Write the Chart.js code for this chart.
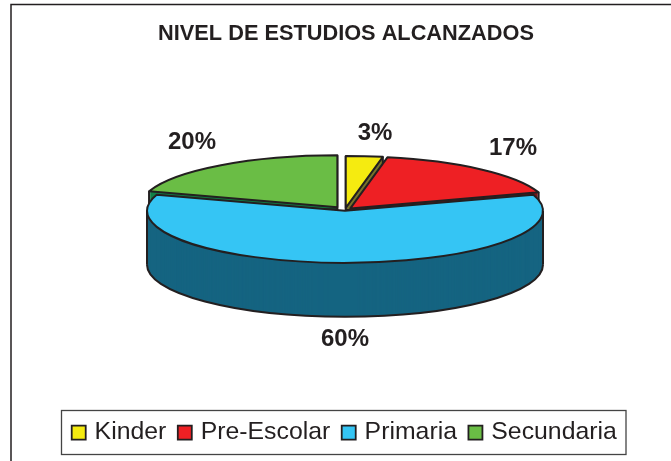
<!DOCTYPE html>
<html><head><meta charset="utf-8">
<style>html,body{margin:0;padding:0;background:#fff}canvas{display:block}</style>
<script src="https://cdn.jsdelivr.net/npm/chart.js@4"></script>
</head><body><canvas id="c" width="671" height="461"></canvas>
<script>
const categories = ['Kinder','Pre-Escolar','Primaria','Secundaria'];
const values = [3,17,60,20];
const topColors = ['#F5EB10','#EE2024','#35C5F4','#6ABD45'];
const wallColors = ['#77752A','#7E1416','#156481','#118047'];
const titleText = 'NIVEL DE ESTUDIOS ALCANZADOS';

const ink = '#231F20';
const pieCenter = {x:345, y:210};
const rx = 198, ry = 52, depth = 54;
const explode = [8,8,3,13];
const drawOrder = [3,0,1,2];
const valueLabelPos = [[375,133],[513,148],[345,339],[192,142]];

const pie3d = {
  id:'pie3d',
  beforeDraw(chart){
    const ctx = chart.ctx;
    ctx.save();
    ctx.fillStyle='#fff'; ctx.fillRect(0,0,chart.width,chart.height);
    ctx.strokeStyle=ink; ctx.lineWidth=1.5;
    ctx.strokeRect(11,4.5,chart.width+20,chart.height+20);
    ctx.restore();
  },
  beforeDatasetsDraw(chart){
    const ctx = chart.ctx, arcs = chart.getDatasetMeta(0).data;
    drawOrder.forEach(i=>{
      const a = arcs[i];
      const sx = rx/a.outerRadius, sy = ry/a.outerRadius;
      const mid = (a.startAngle+a.endAngle)/2;
      const ox = Math.cos(mid)*explode[i], oy = Math.sin(mid)*explode[i]*ry/rx;
      const place = (dy)=>{
        ctx.translate(pieCenter.x+ox, pieCenter.y+oy+dy);
        ctx.scale(sx,sy);
        ctx.translate(-a.x,-a.y);
      };
      const sector = ()=>{
        ctx.beginPath();
        ctx.moveTo(a.x,a.y);
        ctx.arc(a.x,a.y,a.outerRadius,a.startAngle,a.endAngle);
        ctx.closePath();
      };
      const rim = (ang,dy)=>[pieCenter.x+ox+Math.cos(ang)*rx, pieCenter.y+oy+dy+Math.sin(ang)*ry];
      // side wall
      ctx.save();
      ctx.fillStyle = wallColors[i];
      for(let d=depth;d>=1;d--){
        ctx.save(); place(d); sector(); ctx.fill(); ctx.restore();
      }
      ctx.restore();
      // wall outline
      ctx.save();
      ctx.strokeStyle=ink; ctx.lineWidth=2; ctx.lineJoin='round';
      const s0 = Math.max(a.startAngle,0), e0 = Math.min(a.endAngle,Math.PI);
      if(e0>s0){
        ctx.save(); place(depth);
        ctx.beginPath(); ctx.arc(a.x,a.y,a.outerRadius,s0,e0); ctx.restore(); ctx.stroke();
        [s0,e0].forEach(g=>{
          const p=rim(g,0), q=rim(g,depth);
          ctx.beginPath(); ctx.moveTo(p[0],p[1]); ctx.lineTo(q[0],q[1]); ctx.stroke();
        });
      } else {
        ctx.save(); place(depth); sector(); ctx.restore(); ctx.stroke();
        [a.startAngle,a.endAngle].forEach(g=>{
          const p=rim(g,0), q=rim(g,depth);
          ctx.beginPath(); ctx.moveTo(p[0],p[1]); ctx.lineTo(q[0],q[1]); ctx.stroke();
        });
      }
      ctx.restore();
      // top face through the library's arc element
      ctx.save(); place(0); a.draw(ctx); ctx.restore();
      // outline in screen space so its width is even
      ctx.save();
      ctx.save(); place(0); sector(); ctx.restore();
      ctx.strokeStyle=ink; ctx.lineWidth=2; ctx.lineJoin='round'; ctx.stroke();
      ctx.restore();
    });
    return false;
  },
  afterDraw(chart){
    const ctx = chart.ctx;
    ctx.save();
    ctx.fillStyle=ink;
    ctx.font='bold 24px "Liberation Sans"';
    ctx.textAlign='center'; ctx.textBaseline='middle';
    values.forEach((v,i)=>ctx.fillText(v+'%',valueLabelPos[i][0],valueLabelPos[i][1]));
    ctx.strokeStyle='#444'; ctx.lineWidth=1.3;
    ctx.strokeRect(61.5,410.5,564.5,44);
    ctx.restore();
  }
};

new Chart(document.getElementById('c'),{
  type:'pie',
  data:{labels:categories,datasets:[{data:values,backgroundColor:topColors,borderWidth:0}]},
  plugins:[pie3d],
  options:{
    responsive:false,
    animation:false,
    layout:{padding:{bottom:6,left:21}},
    plugins:{
      tooltip:{enabled:false},
      title:{display:true,text:titleText,color:ink,
        font:{family:'"Liberation Sans"',size:21.75,weight:'bold'},
        padding:{top:21,bottom:10}},
      legend:{position:'bottom',
        labels:{usePointStyle:true,pointStyle:'rect',boxWidth:7,boxHeight:14,padding:15,
          color:ink,font:{family:'"Liberation Sans"',size:24.8},
          generateLabels(chart){
            return categories.map((t,i)=>({text:t,fillStyle:topColors[i],strokeStyle:ink,lineWidth:1.8,pointStyle:'rect',index:i,hidden:false,fontColor:ink}));
          }}}
    }
  }
});
</script></body></html>
